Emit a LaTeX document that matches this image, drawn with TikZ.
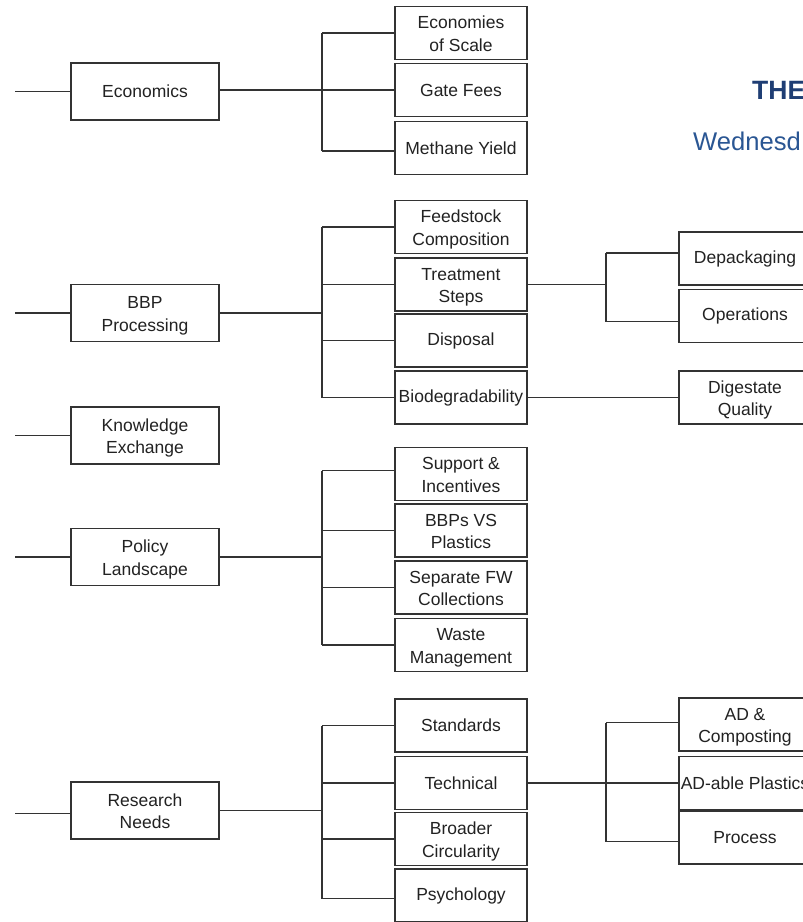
\documentclass[tikz,border=0pt]{standalone}
\usepackage{fontspec}
\setmainfont{Liberation Sans}
\definecolor{linec}{HTML}{333333}
\definecolor{textc}{HTML}{222222}
\definecolor{navy}{HTML}{1F3E74}
\definecolor{midblue}{HTML}{2A5693}
\newcommand{\twol}[2]{\raisebox{-2.5pt}[\height][\depth]{\begin{tabular}{@{}c@{}}#1\\#2\end{tabular}}}
\tikzset{
  basebox/.style={draw=linec, line width=1.4pt, fill=white, align=center, inner sep=0pt,
    text=textc, font=\fontsize{17.5}{22.8}\selectfont},
  lvlone/.style={basebox, minimum width=148pt, minimum height=57pt},
  lvltwo/.style={basebox, minimum width=132pt, minimum height=53pt},
  lvlthree/.style={basebox, minimum width=132pt, minimum height=53pt},
  conn/.style={draw=linec, line width=1.4pt},
}
\begin{document}
\begin{tikzpicture}[x=1pt, y=-1pt]
\useasboundingbox (0,0) rectangle (803,922);
\clip (0,0) rectangle (803,922);

% spines and stub x positions
\coordinate (ls) at (15,0);
\coordinate (sa) at (322,0);
\coordinate (sb) at (606,0);

% level 1
\node[lvlone] (econ) at (145,91.5) {Economics};
\node[lvlone] (bbp) at (145,313) {\twol{BBP}{Processing}};
\node[lvlone] (know) at (145,435.5) {\twol{Knowledge}{Exchange}};
\node[lvlone] (policy) at (145,557) {\twol{Policy}{Landscape}};
\node[lvlone] (research) at (145,810.5) {\twol{Research}{Needs}};

% level 2
\node[lvltwo] (eos) at (461,33) {\twol{Economies}{of Scale}};
\node[lvltwo] (gate) at (461,90) {Gate Fees};
\node[lvltwo] (meth) at (461,148) {Methane Yield};
\node[lvltwo] (feed) at (461,227) {\twol{Feedstock}{Composition}};
\node[lvltwo] (treat) at (461,284.5) {\twol{Treatment}{Steps}};
\node[lvltwo] (disp) at (461,340.5) {Disposal};
\node[lvltwo] (bio) at (461,397.5) {Biodegradability};
\node[lvltwo] (supp) at (461,474) {\twol{Support \&}{Incentives}};
\node[lvltwo] (bbps) at (461,530.5) {\twol{BBPs VS}{Plastics}};
\node[lvltwo] (sep) at (461,587.5) {\twol{Separate FW}{Collections}};
\node[lvltwo] (waste) at (461,645) {\twol{Waste}{Management}};
\node[lvltwo] (std) at (461,725.5) {Standards};
\node[lvltwo] (tech) at (461,783) {Technical};
\node[lvltwo] (broad) at (461,839) {\twol{Broader}{Circularity}};
\node[lvltwo] (psych) at (461,895.5) {Psychology};

% level 3
\node[lvlthree] (depack) at (745,258.5) {Depackaging};
\node[lvlthree] (oper) at (745,316) {Operations};
\node[lvlthree] (dig) at (745,397.5) {\twol{Digestate}{Quality}};
\node[lvlthree] (adc) at (745,724.5) {\twol{AD \&}{Composting}};
\node[lvlthree] (adp) at (745,783) {AD-able Plastics};
\node[lvlthree] (proc) at (745,837.5) {Process};

% header text (cut at the right edge, as in the reference)
\node[anchor=base west, inner sep=0pt, text=navy, font=\fontsize{26.5}{30}\selectfont\bfseries] (title) at (752,99) {THE};
\node[anchor=base west, inner sep=0pt, text=midblue, font=\fontsize{25.6}{30}\selectfont] (date) at (693,150) {Wednesd};

% connector entry points that sit off the box centres
\coordinate (methin) at ([yshift=-3pt]meth.west);
\coordinate (suppin) at ([yshift=3.5pt]supp.west);
\coordinate (psychin) at ([yshift=-3pt]psych.west);
\coordinate (depackin) at ([yshift=5.5pt]depack.west);
\coordinate (operin) at ([yshift=-5.5pt]oper.west);
\coordinate (adcin) at ([yshift=2pt]adc.west);
\coordinate (procin) at ([yshift=-4pt]proc.west);
\coordinate (researchin) at ([yshift=-3pt]research.west);

% left stubs
\foreach \p in {econ.west,bbp.west,know.west,policy.west,researchin}
  \draw[conn] (\p -| ls) -- (\p);

% Economics
\draw[conn] (econ.east |- gate.west) -- (gate.west);
\draw[conn] (eos.west -| sa) -- (methin -| sa);
\foreach \c in {eos.west,methin}
  \draw[conn] (\c -| sa) -- (\c);

% BBP Processing
\draw[conn] (bbp.east) -- (bbp.east -| sa);
\draw[conn] (feed.west -| sa) -- (bio.west -| sa);
\foreach \c in {feed,treat,disp,bio}
  \draw[conn] (\c.west -| sa) -- (\c.west);

% Treatment Steps
\draw[conn] (treat.east) -- (treat.east -| sb);
\draw[conn] (depackin -| sb) -- (operin -| sb);
\foreach \c in {depackin,operin}
  \draw[conn] (\c -| sb) -- (\c);

% Biodegradability
\draw[conn] (bio.east) -- (dig.west);

% Policy Landscape
\draw[conn] (policy.east) -- (policy.east -| sa);
\draw[conn] (suppin -| sa) -- (waste.west -| sa);
\foreach \c in {suppin,bbps.west,sep.west,waste.west}
  \draw[conn] (\c -| sa) -- (\c);

% Research Needs
\draw[conn] (research.east) -- (research.east -| sa);
\draw[conn] (std.west -| sa) -- (psychin -| sa);
\foreach \c in {std.west,tech.west,broad.west,psychin}
  \draw[conn] (\c -| sa) -- (\c);

% Technical
\draw[conn] (tech.east) -- (adp.west);
\draw[conn] (adcin -| sb) -- (procin -| sb);
\foreach \c in {adcin,procin}
  \draw[conn] (\c -| sb) -- (\c);
\end{tikzpicture}
\end{document}
